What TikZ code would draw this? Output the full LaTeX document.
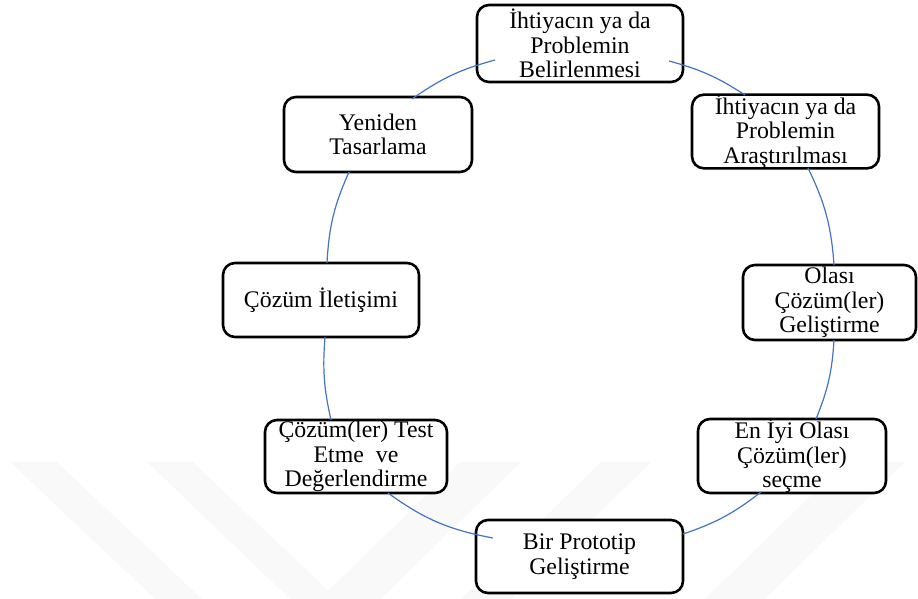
\documentclass[tikz,border=0pt]{standalone}
\usepackage{fontspec}
\setmainfont{Liberation Serif}
\definecolor{linkblue}{HTML}{4472C4}
\begin{document}
\begin{tikzpicture}[x=1pt,y=-1pt,
  stage/.style={draw=black, line width=2.6pt, rounded corners=12pt, fill=white,
    inner sep=0pt, align=center, font=\fontsize{23.8}{24.5}\selectfont},
  link/.style={draw=linkblue, line width=1.2pt},
  wm/.style={fill=gray!5}]
\useasboundingbox (0,0) rectangle (918,599);

% faint background bands
\begin{scope}
  \clip (0,0) rectangle (918,599);
  \fill[wm] (10,462) -- (57,462) -- (202,599) -- (155,599) -- cycle;
  \fill[wm] (147,462) -- (193,462) -- (337,599) -- (290,599) -- cycle;
  \fill[wm] (460,462) -- (521,462) -- (381,599) -- (320,599) -- cycle;
  \fill[wm] (601,462) -- (651,462) -- (511,599) -- (461,599) -- cycle;
  \fill[wm] (845,462) -- (905,462) -- (765,599) -- (705,599) -- cycle;
\end{scope}

% process stages
\node[stage, minimum width=206pt, minimum height=77pt] (t1) at (580,43.5)
  {İhtiyacın ya da\\Problemin\\Belirlenmesi};
\node[stage, minimum width=187pt, minimum height=73pt] (t2) at (785.5,131.5)
  {İhtiyacın ya da\\Problemin\\Araştırılması};
\node[stage, minimum width=173pt, minimum height=75pt] (t3) at (829.5,302.5)
  {Olası\\Çözüm(ler)\\Geliştirme};
\node[stage, minimum width=188pt, minimum height=74pt] (t4) at (792,456)
  {En İyi Olası\\Çözüm(ler)\\seçme};
\node[stage, minimum width=207pt, minimum height=73pt] (t5) at (579.5,556.5)
  {Bir Prototip\\Geliştirme};
\node[stage, minimum width=182pt, minimum height=73pt] (t6) at (356,456.5)
  {Çözüm(ler) Test\\Etme\ \ ve\\Değerlendirme};
\node[stage, minimum width=196pt, minimum height=74pt] (t7) at (321,300)
  {Çözüm İletişimi};
\node[stage, minimum width=188pt, minimum height=75pt] (t8) at (378,134.5)
  {Yeniden\\Tasarlama};

% circular links between stages
\draw[link] ([shift={(-85,16.5)}]t1.center) to[bend right=10] ([shift={(34,-35.5)}]t8.center);
\draw[link] ([shift={(-29,37.5)}]t8.center) to[bend right=10.5] ([shift={(6,-37)}]t7.center);
\draw[link] ([shift={(4,37)}]t7.center) to[bend right=8.6] ([shift={(-25,-36.5)}]t6.center);
\draw[link] ([shift={(32,36.5)}]t6.center) to[bend right=12.7] ([shift={(-86.5,-18.5)}]t5.center);
\draw[link] ([shift={(103.5,-22.5)}]t5.center) to[bend right=9.7] ([shift={(-31,36)}]t4.center);
\draw[link] ([shift={(24,-37)}]t4.center) to[bend right=9.3] ([shift={(4.5,37.5)}]t3.center);
\draw[link] ([shift={(4.5,-37.5)}]t3.center) to[bend right=10.9] ([shift={(22.5,36.5)}]t2.center);
\draw[link] ([shift={(-40.5,-36.5)}]t2.center) to[bend right=9] ([shift={(89,17.5)}]t1.center);
\end{tikzpicture}
\end{document}
